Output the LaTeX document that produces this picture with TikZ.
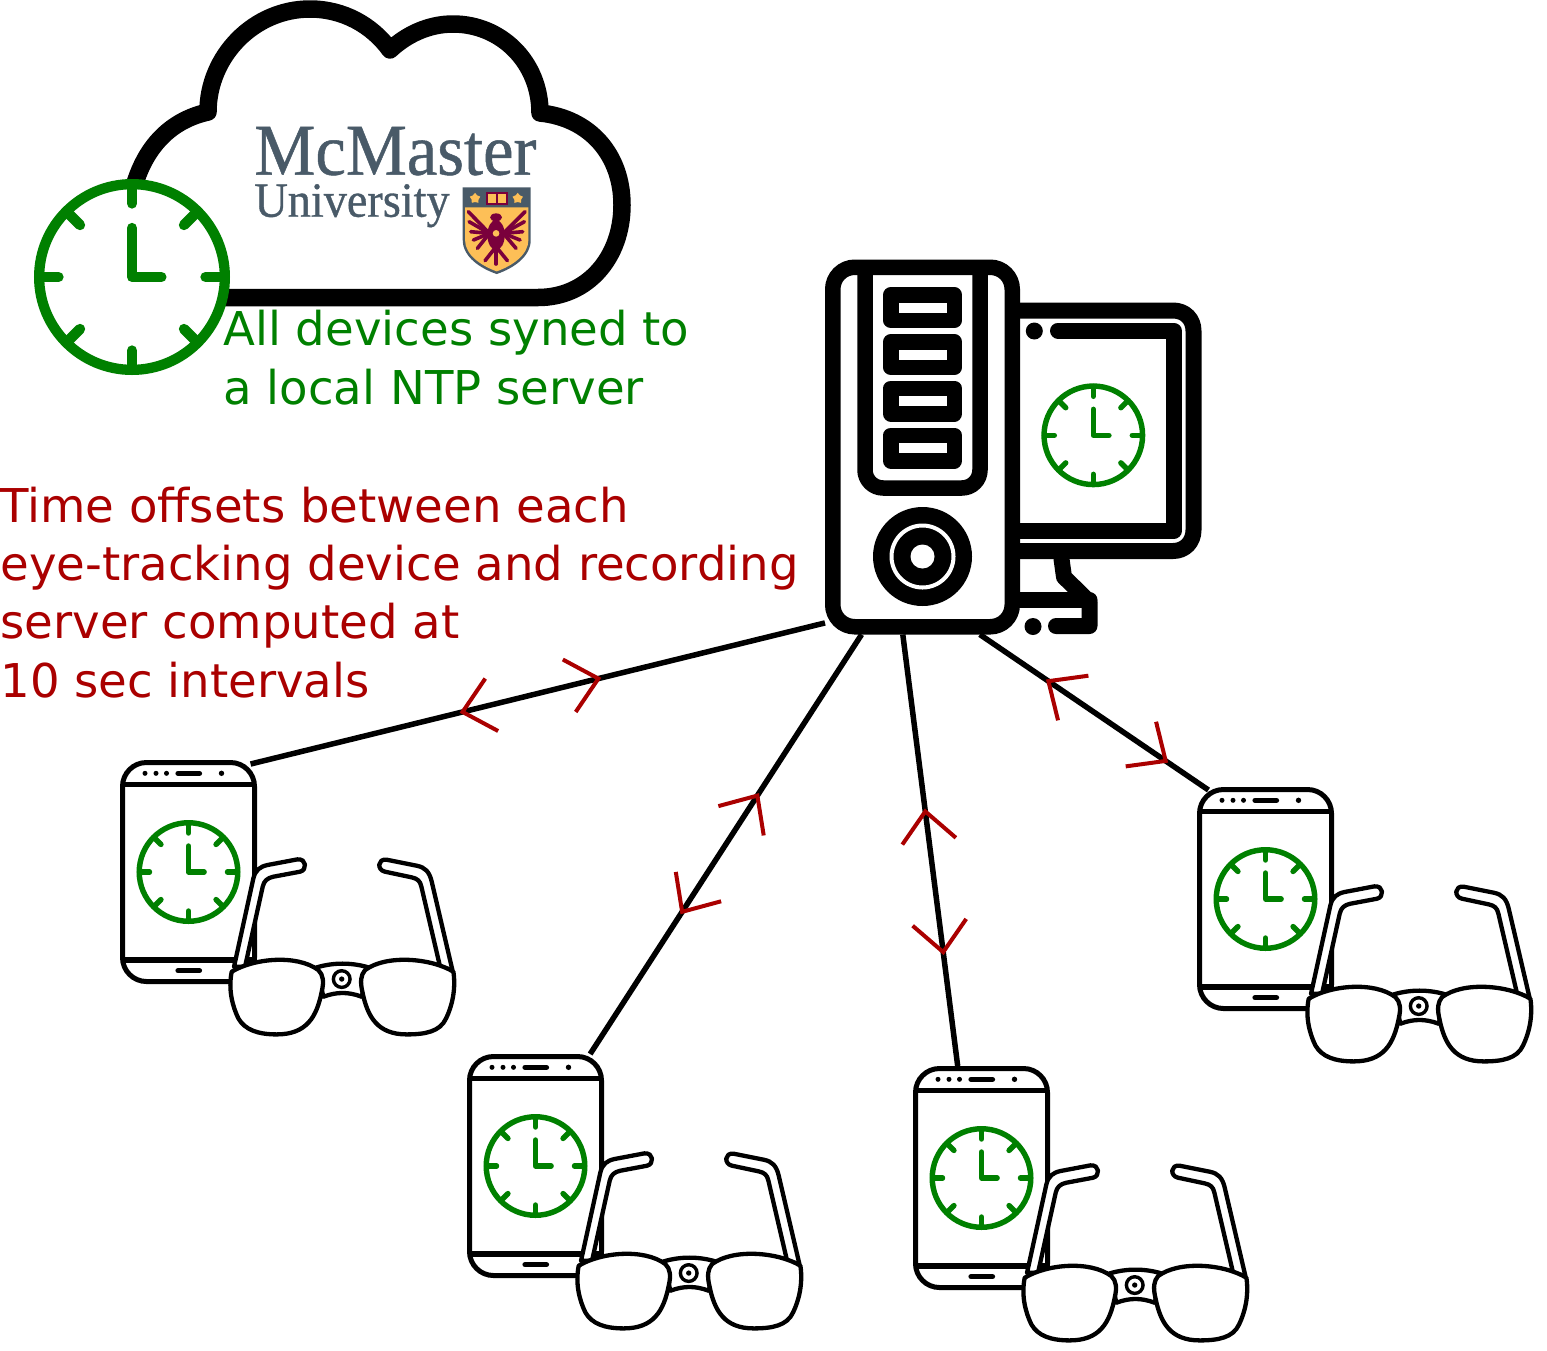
\documentclass[tikz,border=0pt]{standalone}
\usepackage{fontspec}
\setmainfont{DejaVu Sans}
\newfontfamily\logofont[FakeBold=0.7,FakeStretch=0.94]{Liberation Serif}
\usetikzlibrary{shapes.geometric,positioning,calc}
\definecolor{syncGreen}{RGB}{0,128,0}
\definecolor{offsetRed}{RGB}{170,0,0}
\definecolor{mcSlate}{RGB}{73,90,104}
\definecolor{mcGold}{RGB}{253,191,87}
\definecolor{mcMaroon}{RGB}{122,0,60}
\tikzset{
  link/.style={draw=black, line width=2.75pt},
  tipline/.style={draw=offsetRed, line width=2pt},
  phonebody/.style={rectangle, draw=black, fill=white, line width=2.5pt, rounded corners=12pt,
    minimum width=66pt, minimum height=109.5pt},
  tower/.style={rectangle, draw=black, fill=white, line width=7.75pt, rounded corners=11pt,
    minimum width=89.75pt, minimum height=179.75pt},
  baybox/.style={rectangle, draw=black, line width=7.75pt, line join=round,
    minimum width=31.75pt, minimum height=12.75pt},
  thick line/.style={draw=black, line width=8pt, line join=round, line cap=round},
  lens/.style={draw=black, fill=white, line width=2.15pt, line join=round},
  note/.style={font=\fontsize{23.3}{29.15}\selectfont, align=left, inner sep=0pt, anchor=north west},
  pics/tipfwd/.style={code={\draw[tipline] (-30,-27) -- (0,0) -- (-30,27);}},
  pics/tipback/.style={code={\draw[tipline] (30,-27) -- (0,0) -- (30,27);}},
  pics/clockface/.style={code={
    \draw[draw=syncGreen, fill=white, line width=#1*0.0525pt] (0,0) circle (#1*0.9475);
    \foreach \a in {0,45,...,315}
      \draw[draw=syncGreen, line width=#1*0.0525pt, line cap=round] (\a:#1*0.75) -- (\a:#1*0.94);
    \draw[draw=syncGreen, line width=#1*0.0525pt, line cap=round, line join=round]
      (0,-#1*0.5) -- (0,0) -- (#1*0.3,0);
  }},
  pics/eyeset/.style={code={
    \node[phonebody] (-body) at (0,0) {};
    \draw[draw=black, line width=2.6pt] (-66,-87.5) -- (66,-87.5);
    \draw[draw=black, line width=2.6pt] (-66,88) -- (66,88);
    \foreach \x/\r in {-43.5/2.5,-32.5/2.5,-22/2.5,33/2.7}
      \fill[black] (\x,-98.7) circle (\r);
    \draw[draw=black, line width=2.6pt, line cap=round] (-10.5,-98.7) -- (11,-98.7);
    \draw[draw=black, line width=2.6pt, line cap=round] (-10.5,98.7) -- (11,98.7);
    \pic at (0,0) {clockface=52};
    \begin{scope}[shift={(-78.5,-122)}, x=0.1667pt, y=-0.1667pt]
      % temples
      \draw[lens] (372,650) -- (430,385) .. controls (436,360) and (450,350) .. (472,345)
        -- (562,328) .. controls (590,325) and (592,360) .. (570,365) -- (490,380)
        .. controls (472,384) and (462,392) .. (458,410) -- (405,650) -- cycle;
      \draw[lens] (1027,660) -- (965,395) .. controls (958,365) and (945,352) .. (920,347)
        -- (830,329) .. controls (802,325) and (800,360) .. (825,365) -- (905,382)
        .. controls (922,386) and (930,392) .. (934,410) -- (990,650) -- cycle;
      % bridge
      \draw[lens] (620,652) .. controls (670,637) and (725,637) .. (775,652) -- (755,740)
        .. controls (715,725) and (680,725) .. (640,740) -- cycle;
      \draw[draw=black, line width=1.7pt] (695,687) circle (25);
      \fill[black] (695,687) circle (8);
      % lenses
      \draw[lens] (365,665) .. controls (430,625) and (560,612) .. (625,660)
        .. controls (640,675) and (642,695) .. (635,725) .. controls (620,800) and (590,853) .. (500,853)
        .. controls (445,853) and (405,840) .. (385,805) .. controls (368,770) and (354,720) .. (365,665) -- cycle;
      \draw[lens] (1030,665) .. controls (965,625) and (830,612) .. (765,660)
        .. controls (752,675) and (750,695) .. (757,725) .. controls (772,800) and (802,853) .. (890,853)
        .. controls (945,853) and (990,845) .. (1008,805) .. controls (1025,770) and (1038,720) .. (1030,665) -- cycle;
    \end{scope}
  }}
}
\begin{document}
\begin{tikzpicture}[x=0.5pt, y=-0.5pt]
  \useasboundingbox (0,0) rectangle (1547,1350);
  % cloud with logo
  \draw[thick line, line width=8.75pt] (538,297.5) .. controls (588,297.5) and (622,257) .. (622,205)
    .. controls (622,155) and (590,118) .. (540,113) .. controls (540,62) and (501,24) .. (453,24)
    .. controls (428,24) and (406,35) .. (390,50) .. controls (372,25) and (343,9) .. (310,9)
    .. controls (254,9) and (208,56) .. (208,112) .. controls (172,120) and (145,145) .. (133,190)
    -- (200,297.5) -- cycle;
  \node[inner sep=0pt, anchor=north west, align=left, text=mcSlate, font=\logofont\fontsize{36.5}{21}\selectfont] (logotext) at (254,126.5)
    {McMaster\\{\fontsize{24.6}{21}\selectfont University}};
  \begin{scope}[shift={(220,100)}, x=0.1667pt, y=-0.1667pt]
    \fill[mcSlate] (728,262) -- (932,262) -- (932,420) .. controls (932,470) and (880,505) .. (830,522)
      .. controls (780,505) and (728,470) .. (728,420) -- cycle;
    \fill[mcGold] (735,322) -- (925,322) -- (925,420) .. controls (925,465) and (875,498) .. (830,514)
      .. controls (785,498) and (735,465) .. (735,420) -- cycle;
    \node[star, star points=5, fill=mcGold, inner sep=0pt, minimum size=5.5pt] (leafl) at (765,295) {};
    \node[star, star points=5, fill=mcGold, inner sep=0pt, minimum size=5.5pt] (leafr) at (893,295) {};
    \fill[mcMaroon] (797,277) rectangle (863,316);
    \fill[mcGold] (804,282) rectangle (828,308);
    \fill[mcGold] (834,282) rectangle (857,308);
    \foreach \x/\y in {745/335,747/365,752/395,760/420,772/445}
      \draw[draw=mcMaroon, line width=1.8pt, line cap=round] (808,400) -- (\x,\y);
    \foreach \x/\y in {915/335,913/365,908/395,900/420,888/445}
      \draw[draw=mcMaroon, line width=1.8pt, line cap=round] (850,400) -- (\x,\y);
    \foreach \x/\y in {795/482,828/492,862/482}
      \draw[draw=mcMaroon, line width=1.8pt, line cap=round] (828,440) -- (\x,\y);
    \fill[mcMaroon] (828,352) ellipse (18 and 12);
    \fill[mcMaroon] (828,405) ellipse (26 and 45);
    \fill[mcGold] (828,400) circle (10);
  \end{scope}
  \pic at (132,277) {clockface=98};
  \node[note, text=syncGreen] (ntpnote) at (223,310) {All devices syned to\\a local NTP server};
  \node[note, text=offsetRed] (offsetnote) at (0,486.5) {Time offsets between each\\eye-tracking device and recording\\server computed at\\10 sec intervals};
  % recording server
  \draw[thick line] (1020,310.5) -- (1173,310.5) .. controls (1185,310.5) and (1193.5,319) .. (1193.5,331)
    -- (1193.5,530) .. controls (1193.5,542) and (1185,551) .. (1173,551) -- (1020,551);
  \draw[thick line] (1058,330.5) -- (1173.5,330.5) -- (1173.5,531) -- (1020,531);
  \fill[black] (1034.3,331) circle (8.5);
  \pic at (1093.3,435.3) {clockface=52};
  \draw[thick line] (1061.5,559) -- (1064,577) -- (1089.5,602) -- (1089.5,626) -- (1056,626);
  \draw[thick line] (1020,600) -- (1089.5,600);
  \fill[black] (1033,626.5) circle (8.5);
  \node[tower] (server) at (922.5,447) {};
  \draw[thick line, line width=7.75pt, line cap=butt, rounded corners=9pt] (865,268) -- (865,488) -- (980,488) -- (980,268);
  \foreach \y/\n in {307.5/a,354.5/b,401/c,448/d}
    \node[baybox] (bay\n) at (922.5,\y) {};
  \fill[black] (922.5,556.5) circle (49.5);
  \draw[draw=white, line width=2pt] (922.5,556.5) circle (31);
  \fill[white] (922.5,556.5) circle (12);
  % eye-tracking devices
  \pic (phonea) at (188.5,872) {eyeset};
  \pic (phoneb) at (535.5,1166) {eyeset};
  \pic (phonec) at (981.5,1178) {eyeset};
  \pic (phoned) at (1265.5,899) {eyeset};
  \draw[link] (server.241) -- ([yshift=-2pt]phonea-body.61)
    pic[pos=0.3945, sloped, allow upside down]{tipback} pic[pos=0.631, sloped, allow upside down]{tipfwd};
  \draw[link] (server.252.35) -- (phoneb-body.64.9)
    pic[pos=0.384, sloped, allow upside down]{tipback} pic[pos=0.661, sloped, allow upside down]{tipfwd};
  \draw[link] (server.264.96) -- (phonec-body.102.8)
    pic[pos=0.41, sloped, allow upside down]{tipback} pic[pos=0.736, sloped, allow upside down]{tipfwd};
  \draw[link] (server.287.1) -- ([yshift=-1.5pt]phoned-body.117.3)
    pic[pos=0.3, sloped, allow upside down]{tipback} pic[pos=0.813, sloped, allow upside down]{tipfwd};
\end{tikzpicture}
\end{document}
